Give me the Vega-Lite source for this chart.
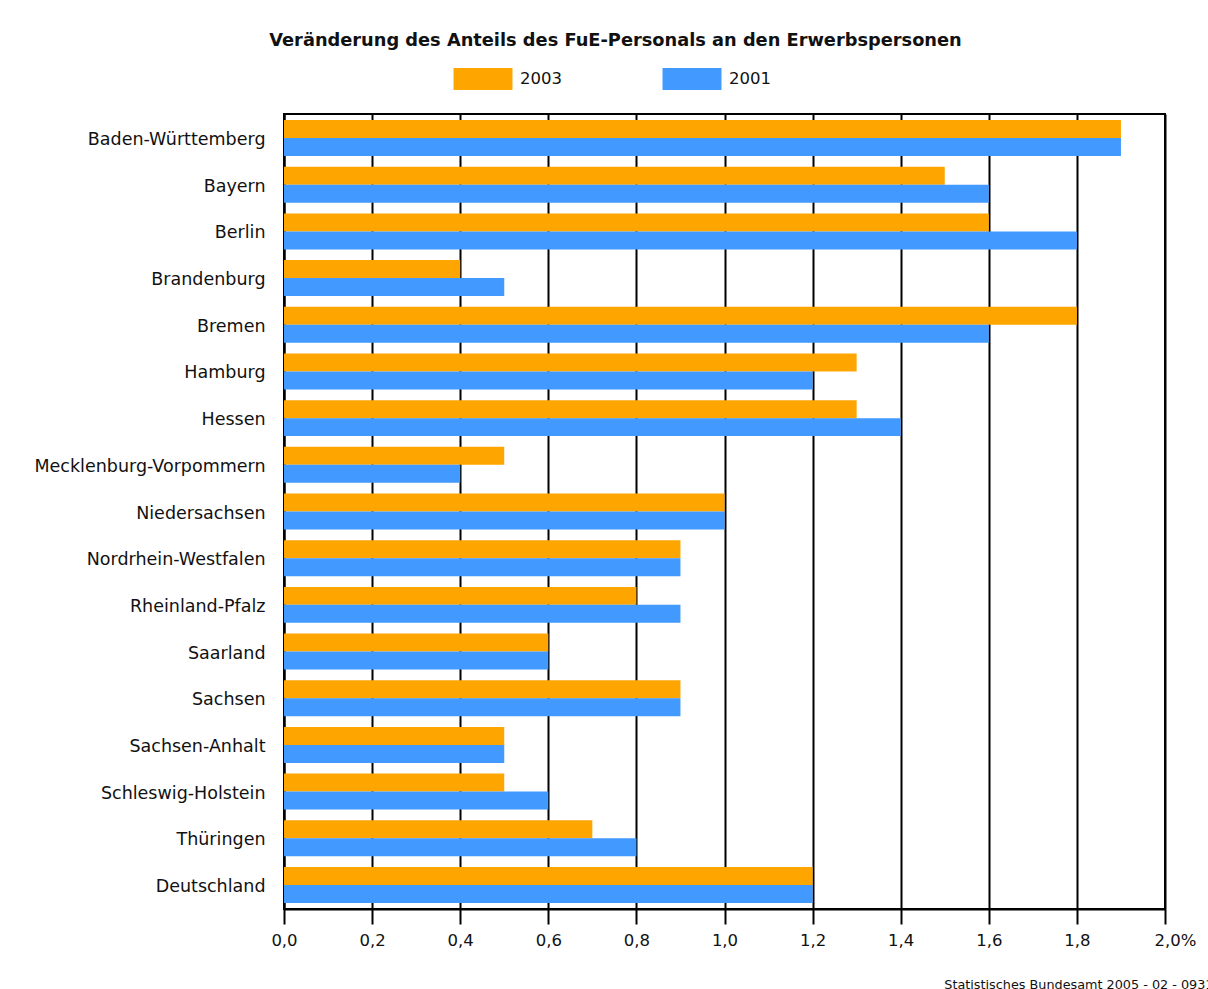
{
  "$schema": "https://vega.github.io/schema/vega-lite/v6.json",
  "width": 881,
  "height": 795,
  "autosize": {"type": "none"},
  "padding": {"left": 284, "top": 114, "right": 43, "bottom": 80},
  "background": "white",
  "title": {
    "text": "Veränderung des Anteils des FuE-Personals an den Erwerbspersonen",
    "font": "DejaVu Sans",
    "fontSize": 17.8,
    "fontWeight": "bold",
    "color": "#111111",
    "anchor": "middle",
    "frame": "group",
    "dx": -109,
    "offset": 18
  },
  "data": {
    "values": [
      {"land": "Baden-Württemberg", "jahr": "2003", "wert": 1.9},
      {"land": "Baden-Württemberg", "jahr": "2001", "wert": 1.9},
      {"land": "Bayern", "jahr": "2003", "wert": 1.5},
      {"land": "Bayern", "jahr": "2001", "wert": 1.6},
      {"land": "Berlin", "jahr": "2003", "wert": 1.6},
      {"land": "Berlin", "jahr": "2001", "wert": 1.8},
      {"land": "Brandenburg", "jahr": "2003", "wert": 0.4},
      {"land": "Brandenburg", "jahr": "2001", "wert": 0.5},
      {"land": "Bremen", "jahr": "2003", "wert": 1.8},
      {"land": "Bremen", "jahr": "2001", "wert": 1.6},
      {"land": "Hamburg", "jahr": "2003", "wert": 1.3},
      {"land": "Hamburg", "jahr": "2001", "wert": 1.2},
      {"land": "Hessen", "jahr": "2003", "wert": 1.3},
      {"land": "Hessen", "jahr": "2001", "wert": 1.4},
      {"land": "Mecklenburg-Vorpommern", "jahr": "2003", "wert": 0.5},
      {"land": "Mecklenburg-Vorpommern", "jahr": "2001", "wert": 0.4},
      {"land": "Niedersachsen", "jahr": "2003", "wert": 1.0},
      {"land": "Niedersachsen", "jahr": "2001", "wert": 1.0},
      {"land": "Nordrhein-Westfalen", "jahr": "2003", "wert": 0.9},
      {"land": "Nordrhein-Westfalen", "jahr": "2001", "wert": 0.9},
      {"land": "Rheinland-Pfalz", "jahr": "2003", "wert": 0.8},
      {"land": "Rheinland-Pfalz", "jahr": "2001", "wert": 0.9},
      {"land": "Saarland", "jahr": "2003", "wert": 0.6},
      {"land": "Saarland", "jahr": "2001", "wert": 0.6},
      {"land": "Sachsen", "jahr": "2003", "wert": 0.9},
      {"land": "Sachsen", "jahr": "2001", "wert": 0.9},
      {"land": "Sachsen-Anhalt", "jahr": "2003", "wert": 0.5},
      {"land": "Sachsen-Anhalt", "jahr": "2001", "wert": 0.5},
      {"land": "Schleswig-Holstein", "jahr": "2003", "wert": 0.5},
      {"land": "Schleswig-Holstein", "jahr": "2001", "wert": 0.6},
      {"land": "Thüringen", "jahr": "2003", "wert": 0.7},
      {"land": "Thüringen", "jahr": "2001", "wert": 0.8},
      {"land": "Deutschland", "jahr": "2003", "wert": 1.2},
      {"land": "Deutschland", "jahr": "2001", "wert": 1.2}
    ]
  },
  "mark": {"type": "bar"},
  "encoding": {
    "y": {
      "field": "land",
      "type": "nominal",
      "sort": null,
      "scale": {"paddingInner": 0.23, "paddingOuter": 0.13},
      "axis": {
        "title": null,
        "ticks": false,
        "domain": true,
        "domainColor": "#000000",
        "domainWidth": 2,
        "labelPadding": 19,
        "labelOffset": 2,
        "labelFont": "DejaVu Sans",
        "labelFontSize": 17.5,
        "labelColor": "#111111",
        "labelLimit": 400
      }
    },
    "yOffset": {
      "field": "jahr",
      "type": "nominal",
      "sort": ["2003", "2001"],
      "scale": {"paddingInner": 0, "paddingOuter": 0}
    },
    "x": {
      "field": "wert",
      "type": "quantitative",
      "scale": {"domain": [0, 2], "nice": false},
      "axis": {
        "values": [0, 0.2, 0.4, 0.6, 0.8, 1.0, 1.2, 1.4, 1.6, 1.8, 2.0],
        "labelExpr": "replace(format(datum.value, '.1f'), '.', ',') + (datum.value >= 1.99 ? '%' : '')",
        "labelOffset": {"condition": {"test": "datum.value >= 1.99", "value": 10}, "value": 0},
        "grid": true,
        "gridColor": "#000000",
        "gridWidth": 2,
        "gridOpacity": 1,
        "domainColor": "#000000",
        "domainWidth": 2,
        "tickColor": "#000000",
        "tickWidth": 2,
        "tickSize": 15,
        "labelPadding": 8,
        "labelFont": "DejaVu Sans",
        "labelFontSize": 16.5,
        "labelColor": "#111111",
        "labelFlush": false,
        "title": "Statistisches Bundesamt 2005 - 02 - 0931",
        "titleFont": "DejaVu Sans",
        "titleFontSize": 12.8,
        "titleFontWeight": "normal",
        "titleColor": "#111111",
        "titleAnchor": null,
        "titleAlign": "right",
        "titleBaseline": "alphabetic",
        "titleX": 929,
        "titleY": 79
      }
    },
    "color": {
      "field": "jahr",
      "type": "nominal",
      "sort": ["2003", "2001"],
      "scale": {"domain": ["2003", "2001"], "range": ["#FFA500", "#4299FF"]},
      "legend": {
        "title": null,
        "orient": "none",
        "direction": "horizontal",
        "legendX": 188,
        "legendY": -46,
        "symbolType": "M-2.68,-1H2.68V1H-2.68Z",
        "symbolSize": 484,
        "symbolStrokeWidth": 0,
        "symbolOpacity": 1,
        "labelOffset": 26,
        "columnPadding": 100,
        "labelFont": "DejaVu Sans",
        "labelFontSize": 16.5,
        "labelColor": "#111111"
      }
    }
  },
  "config": {
    "view": {"stroke": "#000000", "strokeWidth": 2}
  }
}
